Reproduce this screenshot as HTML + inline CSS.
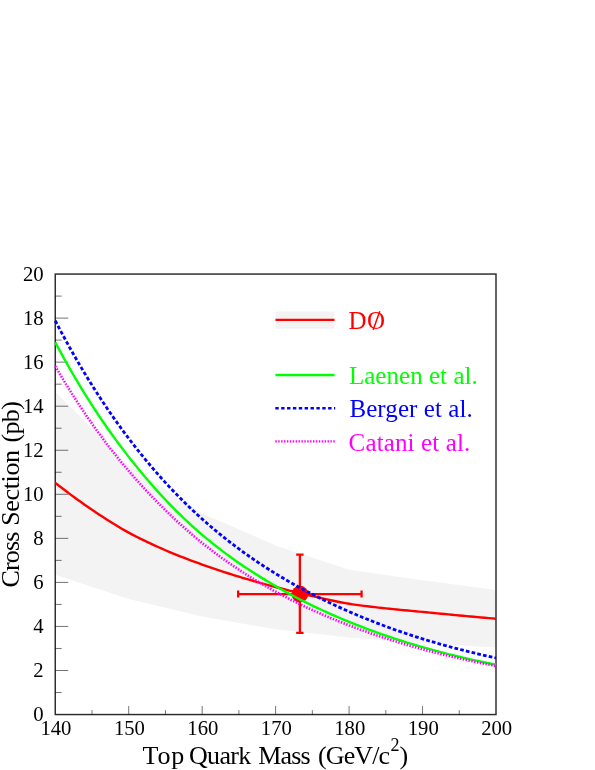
<!DOCTYPE html>
<html><head><meta charset="utf-8"><title>Top quark cross section</title>
<style>html,body{margin:0;padding:0;background:#fff}svg{display:block;will-change:transform}text{font-family:"Liberation Serif",serif}</style></head><body>
<svg width="595" height="770" viewBox="0 0 595 770">
<rect width="595" height="770" fill="#fff"/>
<path d="M55.25,391.66 L128.71,465.67 L202.17,513.46 L275.62,545.40 L349.08,569.85 L422.54,580.20 L496.00,590.11 L496.00,647.59 L422.54,642.97 L349.08,637.46 L275.62,629.31 L202.17,616.54 L128.71,598.92 L55.25,574.69Z" fill="#f3f3f3"/>
<rect x="275.5" y="311.5" width="59" height="17.3" fill="#f3f3f3"/>
<rect x="55.25" y="274.05" width="440.75" height="440.50" fill="none" stroke="#2a2a2a" stroke-width="1.45"/>
<path d="M55.25,692.52h6.4 M55.25,670.50h13.0 M55.25,648.47h6.4 M55.25,626.45h13.0 M55.25,604.42h6.4 M55.25,582.40h13.0 M55.25,560.38h6.4 M55.25,538.35h13.0 M55.25,516.33h6.4 M55.25,494.30h13.0 M55.25,472.27h6.4 M55.25,450.25h13.0 M55.25,428.23h6.4 M55.25,406.20h13.0 M55.25,384.18h6.4 M55.25,362.15h13.0 M55.25,340.12h6.4 M55.25,318.10h13.0 M55.25,296.08h6.4 M91.98,714.55v-4.4 M128.71,714.55v-8.5 M165.44,714.55v-4.4 M202.17,714.55v-8.5 M238.90,714.55v-4.4 M275.62,714.55v-8.5 M312.35,714.55v-4.4 M349.08,714.55v-8.5 M385.81,714.55v-4.4 M422.54,714.55v-8.5 M459.27,714.55v-4.4" stroke="#000" stroke-width="0.55" fill="none"/>
<text x="43.7" y="721.35" font-size="20.7" text-anchor="end">0</text>
<text x="43.7" y="677.30" font-size="20.7" text-anchor="end">2</text>
<text x="43.7" y="633.25" font-size="20.7" text-anchor="end">4</text>
<text x="43.7" y="589.20" font-size="20.7" text-anchor="end">6</text>
<text x="43.7" y="545.15" font-size="20.7" text-anchor="end">8</text>
<text x="43.7" y="501.10" font-size="20.7" text-anchor="end">10</text>
<text x="43.7" y="457.05" font-size="20.7" text-anchor="end">12</text>
<text x="43.7" y="413.00" font-size="20.7" text-anchor="end">14</text>
<text x="43.7" y="368.95" font-size="20.7" text-anchor="end">16</text>
<text x="43.7" y="324.90" font-size="20.7" text-anchor="end">18</text>
<text x="43.7" y="280.85" font-size="20.7" text-anchor="end">20</text>
<text x="55.95" y="734.6" font-size="20.7" text-anchor="middle">140</text>
<text x="129.41" y="734.6" font-size="20.7" text-anchor="middle">150</text>
<text x="202.87" y="734.6" font-size="20.7" text-anchor="middle">160</text>
<text x="276.32" y="734.6" font-size="20.7" text-anchor="middle">170</text>
<text x="349.78" y="734.6" font-size="20.7" text-anchor="middle">180</text>
<text x="423.24" y="734.6" font-size="20.7" text-anchor="middle">190</text>
<text x="496.70" y="734.6" font-size="20.7" text-anchor="middle">200</text>
<text x="142.53" y="764.00" font-size="26" fill="#000" textLength="41.74" lengthAdjust="spacing">Top</text>
<text x="188.93" y="764.00" font-size="26" fill="#000" textLength="62.34" lengthAdjust="spacing">Quark</text>
<text x="258.27" y="764.00" font-size="26" fill="#000" textLength="52.30" lengthAdjust="spacing">Mass</text>
<text x="318.08" y="764.00" font-size="26" fill="#000" textLength="71.93" lengthAdjust="spacing">(GeV/c</text>
<text x="390.43" y="751.20" font-size="18" fill="#000">2</text>
<text x="399.47" y="764.00" font-size="26" fill="#000">)</text>
<g transform="translate(19.3,0) rotate(-90)"><text x="-587.47" y="0.00" font-size="26" fill="#000" textLength="55.92" lengthAdjust="spacing">Cross</text></g>
<g transform="translate(19.3,0) rotate(-90)"><text x="-525.72" y="0.00" font-size="26" fill="#000" textLength="75.78" lengthAdjust="spacing">Section</text></g>
<g transform="translate(19.3,0) rotate(-90)"><text x="-442.62" y="0.00" font-size="26" fill="#000" textLength="41.48" lengthAdjust="spacing">(pb)</text></g>
<path d="M55.25,482.85 L58.92,485.71 L62.60,488.54 L66.27,491.33 L69.94,494.09 L73.61,496.80 L77.29,499.47 L80.96,502.10 L84.63,504.68 L88.31,507.22 L91.98,509.72 L95.65,512.18 L99.33,514.63 L103.00,517.05 L106.67,519.43 L110.34,521.77 L114.02,524.07 L117.69,526.31 L121.36,528.48 L125.04,530.59 L128.71,532.62 L132.38,534.59 L136.05,536.50 L139.73,538.36 L143.40,540.18 L147.07,541.95 L150.75,543.68 L154.42,545.37 L158.09,547.03 L161.76,548.65 L165.44,550.24 L169.11,551.81 L172.78,553.33 L176.46,554.83 L180.13,556.30 L183.80,557.74 L187.47,559.15 L191.15,560.53 L194.82,561.90 L198.49,563.24 L202.17,564.56 L205.84,565.86 L209.51,567.14 L213.19,568.40 L216.86,569.64 L220.53,570.86 L224.20,572.06 L227.88,573.24 L231.55,574.40 L235.22,575.55 L238.90,576.67 L242.57,577.78 L246.24,578.87 L249.91,579.94 L253.59,581.00 L257.26,582.04 L260.93,583.06 L264.61,584.07 L268.28,585.07 L271.95,586.05 L275.62,587.03 L279.30,587.98 L282.97,588.93 L286.64,589.87 L290.32,590.79 L293.99,591.71 L297.66,592.61 L301.34,593.49 L305.01,594.36 L308.68,595.22 L312.35,596.06 L316.03,596.89 L319.70,597.74 L323.37,598.58 L327.05,599.41 L330.72,600.23 L334.39,601.02 L338.06,601.77 L341.74,602.49 L345.41,603.15 L349.08,603.76 L352.76,604.33 L356.43,604.86 L360.10,605.36 L363.77,605.84 L367.45,606.30 L371.12,606.74 L374.79,607.17 L378.47,607.58 L382.14,607.99 L385.81,608.39 L389.49,608.78 L393.16,609.16 L396.83,609.52 L400.50,609.87 L404.18,610.21 L407.85,610.55 L411.52,610.89 L415.20,611.22 L418.87,611.57 L422.54,611.91 L426.21,612.27 L429.89,612.62 L433.56,612.98 L437.23,613.33 L440.91,613.69 L444.58,614.04 L448.25,614.40 L451.93,614.75 L455.60,615.09 L459.27,615.44 L462.94,615.78 L466.62,616.12 L470.29,616.45 L473.96,616.78 L477.64,617.12 L481.31,617.45 L484.98,617.77 L488.65,618.10 L492.33,618.42 L496.00,618.74" stroke="#f00" stroke-width="2.4" fill="none"/>
<circle cx="299.87" cy="594.11" r="8.4" fill="#f00"/>
<path d="M238.16,594.11H361.57 M299.87,554.65V632.84 M238.16,590.61v7 M361.57,590.61v7 M296.17,554.65h7.4 M296.17,632.84h7.4" stroke="#f00" stroke-width="2.3" fill="none"/>
<path d="M55.25,342.33 L58.92,349.17 L62.60,355.89 L66.27,362.47 L69.94,368.92 L73.61,375.26 L77.29,381.47 L80.96,387.55 L84.63,393.53 L88.31,399.38 L91.98,405.13 L95.65,410.76 L99.33,416.29 L103.00,421.71 L106.67,427.03 L110.34,432.24 L114.02,437.36 L117.69,442.37 L121.36,447.29 L125.04,452.12 L128.71,456.86 L132.38,461.51 L136.05,466.08 L139.73,470.57 L143.40,474.98 L147.07,479.32 L150.75,483.57 L154.42,487.74 L158.09,491.83 L161.76,495.84 L165.44,499.78 L169.11,503.63 L172.78,507.41 L176.46,511.10 L180.13,514.72 L183.80,518.26 L187.47,521.73 L191.15,525.11 L194.82,528.43 L198.49,531.66 L202.17,534.83 L205.84,537.92 L209.51,540.94 L213.19,543.90 L216.86,546.79 L220.53,549.63 L224.20,552.40 L227.88,555.12 L231.55,557.79 L235.22,560.40 L238.90,562.96 L242.57,565.47 L246.24,567.94 L249.91,570.36 L253.59,572.73 L257.26,575.07 L260.93,577.36 L264.61,579.61 L268.28,581.83 L271.95,584.00 L275.62,586.14 L279.30,588.25 L282.97,590.31 L286.64,592.34 L290.32,594.33 L293.99,596.29 L297.66,598.21 L301.34,600.09 L305.01,601.94 L308.68,603.76 L312.35,605.55 L316.03,607.31 L319.70,609.03 L323.37,610.73 L327.05,612.39 L330.72,614.03 L334.39,615.64 L338.06,617.23 L341.74,618.79 L345.41,620.32 L349.08,621.82 L352.76,623.31 L356.43,624.77 L360.10,626.20 L363.77,627.62 L367.45,629.01 L371.12,630.37 L374.79,631.72 L378.47,633.04 L382.14,634.33 L385.81,635.61 L389.49,636.86 L393.16,638.09 L396.83,639.30 L400.50,640.49 L404.18,641.65 L407.85,642.80 L411.52,643.92 L415.20,645.02 L418.87,646.10 L422.54,647.15 L426.21,648.19 L429.89,649.21 L433.56,650.21 L437.23,651.20 L440.91,652.16 L444.58,653.11 L448.25,654.04 L451.93,654.96 L455.60,655.86 L459.27,656.74 L462.94,657.61 L466.62,658.47 L470.29,659.30 L473.96,660.13 L477.64,660.94 L481.31,661.73 L484.98,662.51 L488.65,663.28 L492.33,664.03 L496.00,664.77" stroke="#0f0" stroke-width="2.4" fill="none"/>
<path d="M55.25,320.74 L58.92,327.74 L62.60,334.62 L66.27,341.36 L69.94,347.98 L73.61,354.47 L77.29,360.84 L80.96,367.10 L84.63,373.23 L88.31,379.25 L91.98,385.16 L95.65,390.96 L99.33,396.64 L103.00,402.22 L106.67,407.70 L110.34,413.07 L114.02,418.34 L117.69,423.51 L121.36,428.58 L125.04,433.55 L128.71,438.43 L132.38,443.22 L136.05,447.92 L139.73,452.55 L143.40,457.09 L147.07,461.55 L150.75,465.93 L154.42,470.22 L158.09,474.43 L161.76,478.57 L165.44,482.62 L169.11,486.59 L172.78,490.49 L176.46,494.30 L180.13,498.05 L183.80,501.72 L187.47,505.32 L191.15,508.85 L194.82,512.30 L198.49,515.69 L202.17,519.01 L205.84,522.26 L209.51,525.45 L213.19,528.58 L216.86,531.65 L220.53,534.66 L224.20,537.61 L227.88,540.51 L231.55,543.35 L235.22,546.14 L238.90,548.88 L242.57,551.56 L246.24,554.20 L249.91,556.78 L253.59,559.32 L257.26,561.81 L260.93,564.26 L264.61,566.66 L268.28,569.02 L271.95,571.34 L275.62,573.62 L279.30,575.86 L282.97,578.06 L286.64,580.22 L290.32,582.33 L293.99,584.41 L297.66,586.45 L301.34,588.46 L305.01,590.43 L308.68,592.36 L312.35,594.26 L316.03,596.13 L319.70,597.97 L323.37,599.78 L327.05,601.56 L330.72,603.30 L334.39,605.02 L338.06,606.71 L341.74,608.38 L345.41,610.01 L349.08,611.62 L352.76,613.21 L356.43,614.77 L360.10,616.31 L363.77,617.83 L367.45,619.32 L371.12,620.78 L374.79,622.23 L378.47,623.65 L382.14,625.04 L385.81,626.41 L389.49,627.76 L393.16,629.09 L396.83,630.39 L400.50,631.67 L404.18,632.92 L407.85,634.16 L411.52,635.37 L415.20,636.55 L418.87,637.72 L422.54,638.86 L426.21,639.99 L429.89,641.09 L433.56,642.17 L437.23,643.24 L440.91,644.29 L444.58,645.32 L448.25,646.33 L451.93,647.32 L455.60,648.30 L459.27,649.26 L462.94,650.20 L466.62,651.13 L470.29,652.04 L473.96,652.94 L477.64,653.82 L481.31,654.68 L484.98,655.54 L488.65,656.37 L492.33,657.20 L496.00,658.00" stroke="#00f" stroke-width="2.8" stroke-dasharray="3.7 2.17" fill="none"/>
<path d="M55.25,366.11 L58.92,372.39 L62.60,378.55 L66.27,384.59 L69.94,390.51 L73.61,396.31 L77.29,402.01 L80.96,407.59 L84.63,413.07 L88.31,418.43 L91.98,423.70 L95.65,428.86 L99.33,433.91 L103.00,438.87 L106.67,443.73 L110.34,448.50 L114.02,453.17 L117.69,457.75 L121.36,462.25 L125.04,466.65 L128.71,470.97 L132.38,475.22 L136.05,479.39 L139.73,483.49 L143.40,487.53 L147.07,491.49 L150.75,495.38 L154.42,499.21 L158.09,502.96 L161.76,506.65 L165.44,510.28 L169.11,513.83 L172.78,517.33 L176.46,520.75 L180.13,524.12 L183.80,527.42 L187.47,530.65 L191.15,533.83 L194.82,536.94 L198.49,539.98 L202.17,542.97 L205.84,545.89 L209.51,548.75 L213.19,551.56 L216.86,554.30 L220.53,557.00 L224.20,559.64 L227.88,562.23 L231.55,564.77 L235.22,567.26 L238.90,569.70 L242.57,572.10 L246.24,574.44 L249.91,576.75 L253.59,579.01 L257.26,581.23 L260.93,583.40 L264.61,585.54 L268.28,587.64 L271.95,589.70 L275.62,591.73 L279.30,593.72 L282.97,595.67 L286.64,597.58 L290.32,599.46 L293.99,601.30 L297.66,603.11 L301.34,604.89 L305.01,606.63 L308.68,608.35 L312.35,610.03 L316.03,611.68 L319.70,613.30 L323.37,614.90 L327.05,616.47 L330.72,618.01 L334.39,619.53 L338.06,621.02 L341.74,622.49 L345.41,623.93 L349.08,625.35 L352.76,626.74 L356.43,628.12 L360.10,629.47 L363.77,630.81 L367.45,632.12 L371.12,633.41 L374.79,634.67 L378.47,635.92 L382.14,637.15 L385.81,638.35 L389.49,639.54 L393.16,640.70 L396.83,641.84 L400.50,642.97 L404.18,644.07 L407.85,645.15 L411.52,646.21 L415.20,647.25 L418.87,648.27 L422.54,649.28 L426.21,650.26 L429.89,651.23 L433.56,652.18 L437.23,653.11 L440.91,654.03 L444.58,654.93 L448.25,655.81 L451.93,656.68 L455.60,657.54 L459.27,658.38 L462.94,659.20 L466.62,660.01 L470.29,660.81 L473.96,661.59 L477.64,662.36 L481.31,663.12 L484.98,663.86 L488.65,664.59 L492.33,665.31 L496.00,666.02" stroke="#f0f" stroke-width="2.6" stroke-dasharray="1.45 1.45" fill="none"/>
<path d="M275.5,319.9H334.5" stroke="#f00" stroke-width="2.4"/>
<path d="M275.5,375H334.5" stroke="#0f0" stroke-width="2.4"/>
<path d="M275.3,408.3H335.2" stroke="#00f" stroke-width="2.4" stroke-dasharray="3.4 2.47"/>
<path d="M275.3,441.4H335.2" stroke="#f0f" stroke-width="2.4" stroke-dasharray="1.45 1.45"/>
<text x="348.60" y="328.70" font-size="25" fill="#f00">D</text>
<text x="366.98" y="328.70" font-size="25" fill="#f00">O</text>
<path d="M379.8,311.3L373.1,330" stroke="#f00" stroke-width="1.5"/>
<text x="348.90" y="383.80" font-size="25" fill="#0f0" textLength="128.85" lengthAdjust="spacing">Laenen et al.</text>
<text x="349.40" y="417.00" font-size="25" fill="#00f" textLength="123.40" lengthAdjust="spacing">Berger et al.</text>
<text x="348.58" y="450.50" font-size="25" fill="#f0f" textLength="121.77" lengthAdjust="spacing">Catani et al.</text>
</svg></body></html>
